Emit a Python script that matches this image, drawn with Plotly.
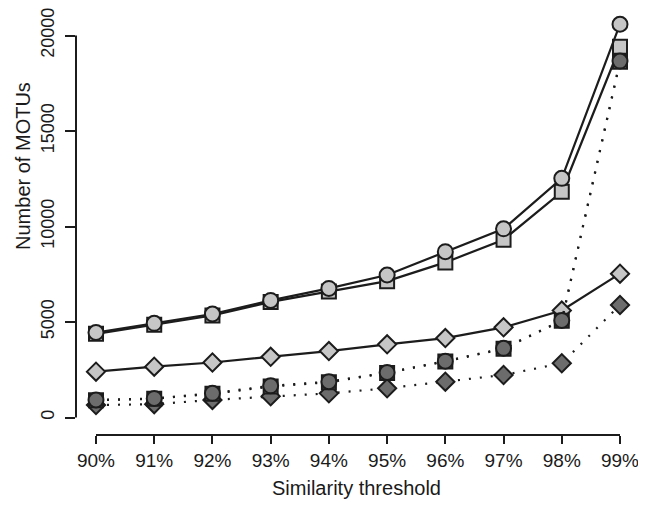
import plotly.graph_objects as go

thresholds = ["90%", "91%", "92%", "93%", "94%", "95%", "96%", "97%", "98%", "99%"]
light_circle = [4450, 4930, 5420, 6130, 6760, 7460, 8680, 9880, 12520, 20590]
light_square = [4380, 4860, 5340, 6050, 6600, 7140, 8120, 9310, 11820, 19410]
light_diamond = [2400, 2660, 2880, 3180, 3480, 3830, 4160, 4720, 5600, 7530]
dark_diamond = [650, 700, 920, 1110, 1265, 1530, 1875, 2225, 2840, 5890]
dark_square = [900, 980, 1240, 1620, 1850, 2330, 2930, 3600, 5060, 18620]
dark_circle = [916, 1000, 1267, 1660, 1875, 2355, 2950, 3620, 5080, 18660]
y_ticks = [0, 5000, 10000, 15000, 20000]

LIGHT = "#c6c6c6"
DARK = "#6c6c6c"
EDGE = "#1c1c1c"
xs = list(range(len(thresholds)))

series = [
    (light_diamond, "diamond", LIGHT, "solid", 14),
    (light_square, "square", LIGHT, "solid", 14),
    (light_circle, "circle", LIGHT, "solid", 15),
    (dark_diamond, "diamond", DARK, "2px,9px", 14),
    (dark_square, "square", DARK, "2px,9px", 14),
    (dark_circle, "circle", DARK, "2px,9px", 15),
]

fig = go.Figure()
for vals, sym, col, dash, sz in series:
    fig.add_trace(go.Scatter(
        x=xs, y=vals, mode="lines+markers",
        line=dict(color=EDGE, width=2.2, dash=dash),
        marker=dict(symbol=sym, size=sz, color=col, line=dict(color=EDGE, width=2)),
        showlegend=False, cliponaxis=False,
    ))

font_family = "Liberation Sans, Arial, Helvetica, sans-serif"
fig.update_layout(
    width=630, height=491,
    margin=dict(l=68, r=1, t=2, b=64, autoexpand=False),
    plot_bgcolor="white", paper_bgcolor="white",
    font=dict(family=font_family, size=19, color="#1a1a1a"),
    xaxis=dict(
        range=[-0.3435, 9.292], tickmode="array", tickvals=xs, ticktext=thresholds,
        showgrid=False, zeroline=False, showline=False, automargin=False,
        ticks="outside", ticklen=8, tickwidth=2, tickcolor=EDGE,
        tickfont=dict(size=19), ticklabeloverflow="allow",
        title=dict(text="Similarity threshold", font=dict(size=20), standoff=11),
    ),
    yaxis=dict(
        range=[-916, 21335], tickmode="array", tickvals=y_ticks,
        ticktext=[str(v) for v in y_ticks],
        showgrid=False, zeroline=False, showline=False, automargin=False,
        ticks="outside", ticklen=10, tickwidth=2, tickcolor=EDGE,
        tickangle=-90, tickfont=dict(size=18), ticklabelstandoff=4,
        ticklabeloverflow="allow",
    ),
    annotations=[
        dict(text="Number of MOTUs", xref="paper", yref="paper", x=-0.0945, y=0.633,
             xanchor="center", yanchor="middle", textangle=-90, showarrow=False,
             font=dict(size=20)),
    ],
    shapes=[
        dict(type="line", xref="paper", yref="y", x0=0, x1=0, y0=y_ticks[0], y1=y_ticks[-1],
             line=dict(color=EDGE, width=2)),
        dict(type="line", xref="x", yref="paper", x0=xs[0], x1=xs[-1], y0=0, y1=0,
             line=dict(color=EDGE, width=2)),
    ],
)
fig.write_html("out.html")
